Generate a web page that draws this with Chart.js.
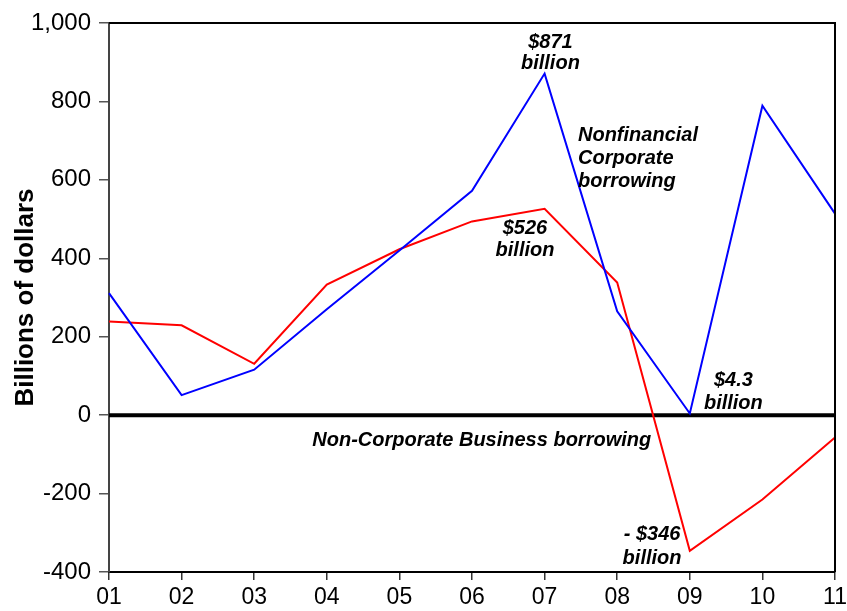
<!DOCTYPE html>
<html>
<head>
<meta charset="utf-8">
<script src="https://cdn.jsdelivr.net/npm/chart.js@4"></script>
<style>
  html, body { margin: 0; padding: 0; background: #fff; }
  #wrap { width: 847px; height: 611px; }
</style>
</head>
<body>
<div id="wrap"><canvas id="chart"></canvas></div>
<script>
const years = ["01", "02", "03", "04", "05", "06", "07", "08", "09", "10", "11"];
const corporate = [311, 51, 116, 270, 420, 572, 871, 265, 4.3, 789, 514];
const nonCorporate = [239, 229, 131, 333, 423, 494, 526, 338, -346, -215, -57];
const yTicks = [-400, -200, 0, 200, 400, 600, 800, 1000];

// notes placed in data units (x = category index, y = value of first line)
const notes = [
    { lines: ["$871", "billion"], x: 6.08, y: 950, align: "center", gap: 21 },
    { lines: ["Nonfinancial", "Corporate", "borrowing"], x: 6.46, y: 714, align: "left", gap: 23 },
    { lines: ["$526", "billion"], x: 5.73, y: 475, align: "center", gap: 22 },
    { lines: ["$4.3", "billion"], x: 8.6, y: 88, align: "center", gap: 23 },
    { lines: ["- $346", "billion"], x: 7.48, y: -304, align: "center", gap: 24 },
    { lines: ["Non-Corporate Business borrowing"], x: 2.8, y: -65, align: "left", gap: 0 }
];

const FONT = "'Liberation Sans', Arial, sans-serif";

// cadre, ligne du zéro et annotations
const extras = {
    id: "extras",
    beforeDatasetsDraw(chart) {
        const { ctx, chartArea: a, scales } = chart;
        const y0 = scales.y.getPixelForValue(0);
        ctx.save();
        ctx.strokeStyle = "#000";
        ctx.lineWidth = 4;
        ctx.beginPath();
        ctx.moveTo(a.left, y0);
        ctx.lineTo(a.right, y0);
        ctx.stroke();
        ctx.restore();
    },
    afterDatasetsDraw(chart) {
        const { ctx, chartArea: a, scales } = chart;
        ctx.save();
        ctx.strokeStyle = "#000";
        ctx.lineWidth = 2;
        ctx.beginPath();
        ctx.moveTo(a.left, a.top);
        ctx.lineTo(a.right, a.top);
        ctx.lineTo(a.right, a.bottom);
        ctx.stroke();

        ctx.fillStyle = "#000";
        ctx.font = "italic bold 20px " + FONT;
        ctx.textBaseline = "middle";
        notes.forEach(n => {
            const px = scales.x.getPixelForValue(n.x);
            const py = scales.y.getPixelForValue(n.y);
            ctx.textAlign = n.align;
            n.lines.forEach((t, i) => ctx.fillText(t, px, py + i * n.gap));
        });
        ctx.restore();
    }
};

new Chart(document.getElementById("chart"), {
    type: "line",
    data: {
        labels: years,
        datasets: [
            {
                label: "Nonfinancial Corporate borrowing",
                data: corporate,
                borderColor: "#0000ff",
                borderWidth: 2,
                pointRadius: 0,
                tension: 0
            },
            {
                label: "Non-Corporate Business borrowing",
                data: nonCorporate,
                borderColor: "#ff0000",
                borderWidth: 2,
                pointRadius: 0,
                tension: 0
            }
        ]
    },
    options: {
        responsive: true,
        maintainAspectRatio: false,
        animation: false,
        layout: { padding: { top: 23, right: 0, left: 0, bottom: 0 } },
        plugins: {
            legend: { display: false },
            tooltip: { enabled: false }
        },
        scales: {
            x: {
                offset: false,
                border: { display: true, color: "#000", width: 2 },
                grid: { drawOnChartArea: false, drawTicks: true, tickLength: 8, color: "#333", lineWidth: 1.5 },
                ticks: {
                    color: "#000",
                    padding: 4,
                    maxRotation: 0,
                    autoSkip: false,
                    font: { family: FONT, size: 23 }
                },
                afterFit(scale) {
                    scale.height = 39;
                    scale.paddingRight = 12;
                }
            },
            y: {
                min: -400,
                max: 1000,
                afterBuildTicks(scale) { scale.ticks = yTicks.map(v => ({ value: v })); },
                border: { display: true, color: "#444", width: 2 },
                grid: { drawOnChartArea: false, drawTicks: true, tickLength: 10, color: "#555", lineWidth: 1.5 },
                ticks: {
                    color: "#000",
                    padding: 8,
                    font: { family: FONT, size: 24 },
                    callback: v => v.toLocaleString("en-US")
                },
                title: {
                    display: true,
                    text: "Billions of dollars",
                    color: "#000",
                    padding: { top: 10, bottom: 0 },
                    font: { family: FONT, size: 26, weight: "bold" }
                },
                afterFit(scale) { scale.width = 109; }
            }
        }
    },
    plugins: [extras]
});
</script>
</body>
</html>
